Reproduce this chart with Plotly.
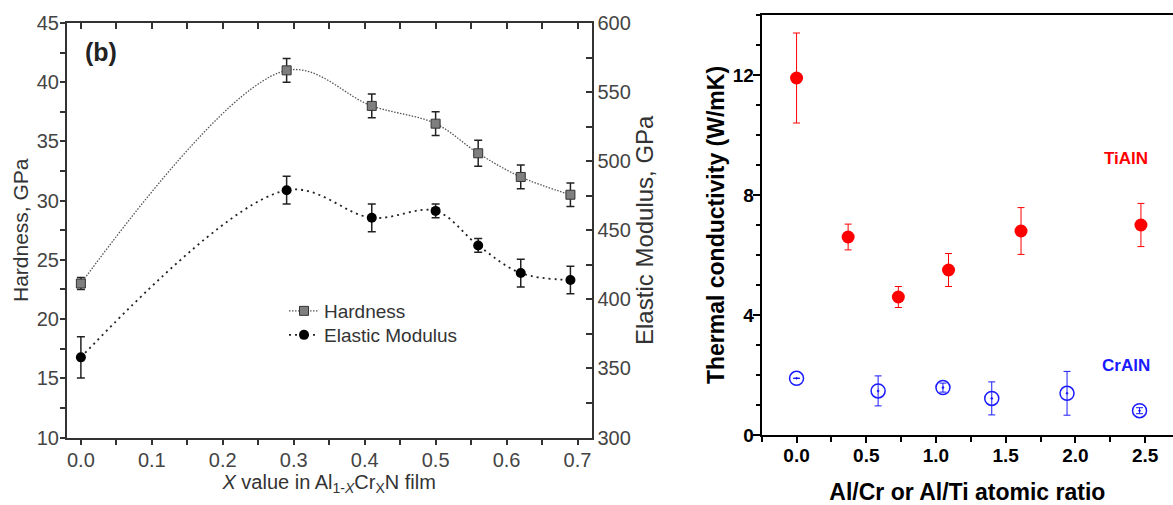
import plotly.graph_objects as go

# ---------------- data ----------------
x_cr = [0.0, 0.29, 0.41, 0.50, 0.56, 0.62, 0.69]
hardness = [23.0, 41.0, 38.0, 36.5, 34.0, 32.0, 30.5]
hardness_err = [0.5, 1.0, 1.0, 1.0, 1.1, 1.0, 1.0]
modulus = [358, 479, 459, 464, 439, 419, 414]
modulus_err = [15, 10, 10, 5, 5, 10, 10]

tialn_ratio = [0.0, 0.37, 0.73, 1.09, 1.61, 2.47]
tialn_k = [11.9, 6.6, 4.6, 5.5, 6.8, 7.0]
tialn_err = [1.5, 0.43, 0.35, 0.55, 0.78, 0.72]

craln_ratio = [0.0, 0.585, 1.05, 1.40, 1.94, 2.46]
craln_k = [1.89, 1.47, 1.58, 1.22, 1.39, 0.81]
craln_err = [0.0, 0.5, 0.15, 0.55, 0.73, 0.1]

# ---------------- layout helpers ----------------
W, H = 1173, 505
def fx(p): return p / W
def fy(p): return 1 - p / H

FONT = "Arial, Liberation Sans, sans-serif"
GREY = "#333333"

fig = go.Figure()

# left panel
fig.add_trace(go.Scatter(
    x=x_cr, y=hardness, name="Hardness", mode="lines+markers", legend="legend",
    line=dict(shape="spline", smoothing=1.0, color="#555555", width=1.3, dash="1.5px,1.5px"),
    marker=dict(symbol="square", size=9, color="#7f7f7f", line=dict(color="#333333", width=1)),
    error_y=dict(type="data", array=hardness_err, color="#222222", thickness=1.5, width=4),
    xaxis="x", yaxis="y"))
fig.add_trace(go.Scatter(
    x=x_cr, y=modulus, name="Elastic Modulus", mode="lines+markers", legend="legend2",
    line=dict(shape="spline", smoothing=1.0, color="#222222", width=1.8, dash="2px,4px"),
    marker=dict(symbol="circle", size=10, color="#000000"),
    error_y=dict(type="data", array=modulus_err, color="#222222", thickness=1.5, width=4),
    xaxis="x", yaxis="y2"))
fig.add_trace(go.Scatter(x=[], y=[], xaxis="x3", yaxis="y", showlegend=False))

# right panel
fig.add_trace(go.Scatter(
    x=tialn_ratio, y=tialn_k, name="TiAlN", mode="markers", showlegend=False,
    marker=dict(symbol="circle", size=13, color="#ff0000"),
    error_y=dict(type="data", array=tialn_err, color="#ff0000", thickness=1, width=3.5),
    xaxis="x4", yaxis="y4"))
fig.add_trace(go.Scatter(
    x=craln_ratio, y=craln_k, name="CrAlN", mode="markers", showlegend=False,
    marker=dict(symbol="circle-open-dot", size=14, color="#1a1aff", line=dict(width=1.5)),
    error_y=dict(type="data", array=craln_err, color="#1a1aff", thickness=1, width=3.5),
    xaxis="x4", yaxis="y4"))

left_dom = [fx(66.7), fx(591.7)]
left_ydom = [fy(437.5), fy(23)]
right_dom = [fx(761.7), 1.0]
right_ydom = [fy(435), fy(15)]

tickfont_l = dict(family=FONT, size=20, color="#444444")
tickfont_r = dict(family=FONT, size=19, color="#000000", weight="bold")

legend_common = dict(xanchor="left", yanchor="top",
                     font=dict(family=FONT, size=19, color="#333333"),
                     bgcolor="rgba(0,0,0,0)", itemwidth=30, tracegroupgap=0)

fig.update_layout(
    width=W, height=H, margin=dict(l=0, r=0, t=0, b=0, autoexpand=False),
    paper_bgcolor="white", plot_bgcolor="white",
    showlegend=True,
    legend=dict(x=fx(284), y=fy(292), **legend_common),
    legend2=dict(x=fx(284), y=fy(316), **legend_common),
    xaxis=dict(domain=left_dom, anchor="y", range=[-0.02, 0.72], automargin=False,
               tickmode="linear", tick0=0, dtick=0.1, tickformat=".1f",
               ticks="outside", ticklen=6, tickwidth=1.5, tickcolor=GREY,
               minor=dict(ticks="outside", dtick=0.05, ticklen=6, tickwidth=1.5, tickcolor=GREY),
               showline=True, linecolor=GREY, linewidth=1.5, showgrid=False, zeroline=False,
               tickfont=tickfont_l, ticklabelstandoff=-2,
               title=dict(text="<i>X</i> value in Al<sub>1-<i>X</i></sub>Cr<sub>X</sub>N film",
                          font=dict(family=FONT, size=20, color="#333333"), standoff=1)),
    xaxis3=dict(overlaying="x", side="top", anchor="y", range=[-0.02, 0.72], automargin=False,
                tickmode="linear", tick0=0, dtick=0.1, showticklabels=False,
                ticks="inside", ticklen=6, tickwidth=1.5, tickcolor=GREY,
                minor=dict(ticks="inside", dtick=0.05, ticklen=6, tickwidth=1.5, tickcolor=GREY),
                showline=True, linecolor=GREY, linewidth=1.5, showgrid=False, zeroline=False),
    yaxis=dict(domain=left_ydom, anchor="x", range=[10, 45], automargin=False,
               tickmode="linear", tick0=10, dtick=5,
               ticks="outside", ticklen=5, tickwidth=1.5, tickcolor=GREY,
               minor=dict(ticks="outside", dtick=2.5, ticklen=5, tickwidth=1.5, tickcolor=GREY),
               showline=True, linecolor=GREY, linewidth=1.5, showgrid=False, zeroline=False,
               tickfont=tickfont_l, ticklabelstandoff=-3,
               title=dict(text="Hardness, GPa", font=dict(family=FONT, size=21, color="#333333"), standoff=2)),
    yaxis2=dict(overlaying="y", side="right", anchor="x", range=[300, 600], automargin=False,
                tickmode="linear", tick0=300, dtick=50,
                ticks="inside", ticklen=6, tickwidth=1.5, tickcolor=GREY,
                minor=dict(ticks="inside", dtick=25, ticklen=6, tickwidth=1.5, tickcolor=GREY),
                showline=True, linecolor=GREY, linewidth=1.5, showgrid=False, zeroline=False,
                tickfont=tickfont_l,
                title=dict(text="Elastic Modulus, GPa", font=dict(family=FONT, size=24, color="#333333"), standoff=4)),
    xaxis4=dict(domain=right_dom, anchor="y4", range=[-0.25, 2.70], automargin=False,
                tickmode="linear", tick0=0, dtick=0.5, tickformat=".1f",
                ticks="outside", ticklen=6, tickwidth=1.5, tickcolor="black",
                minor=dict(ticks="outside", dtick=0.25, ticklen=5, tickwidth=1.5, tickcolor="black"),
                showline=True, mirror=True, linecolor="black", linewidth=2, showgrid=False, zeroline=False,
                tickfont=tickfont_r, ticklabelstandoff=-4,
                title=dict(text="Al/Cr or Al/Ti atomic ratio",
                           font=dict(family=FONT, size=23, color="black", weight="bold"), standoff=25)),
    yaxis4=dict(domain=right_ydom, anchor="x4", range=[0, 14], automargin=False,
                tickmode="array", tickvals=[0, 4, 8, 12],
                ticks="outside", ticklen=7, tickwidth=1.5, tickcolor="black",
                minor=dict(ticks="outside", dtick=1, ticklen=4, tickwidth=1.5, tickcolor="black"),
                showline=True, linecolor="black", linewidth=2, showgrid=False, zeroline=False,
                tickfont=tickfont_r, ticklabelstandoff=-5,
                title=dict(text="Thermal conductivity (W/mK)",
                           font=dict(family=FONT, size=23, color="black", weight="bold"), standoff=2)),
    annotations=[
        dict(text="<b>(b)</b>", x=fx(101), y=fy(52), xref="paper", yref="paper",
             xanchor="center", yanchor="middle",
             showarrow=False, font=dict(family=FONT, size=25, color="#222222")),
        dict(text="<b>TiAlN</b>", x=fx(1126), y=fy(158), xref="paper", yref="paper",
             xanchor="center", yanchor="middle",
             showarrow=False, font=dict(family=FONT, size=17, color="#ff0000")),
        dict(text="<b>CrAlN</b>", x=fx(1126), y=fy(365), xref="paper", yref="paper",
             xanchor="center", yanchor="middle",
             showarrow=False, font=dict(family=FONT, size=17, color="#1a1aff")),
    ],
)

fig.write_html("out.html")
